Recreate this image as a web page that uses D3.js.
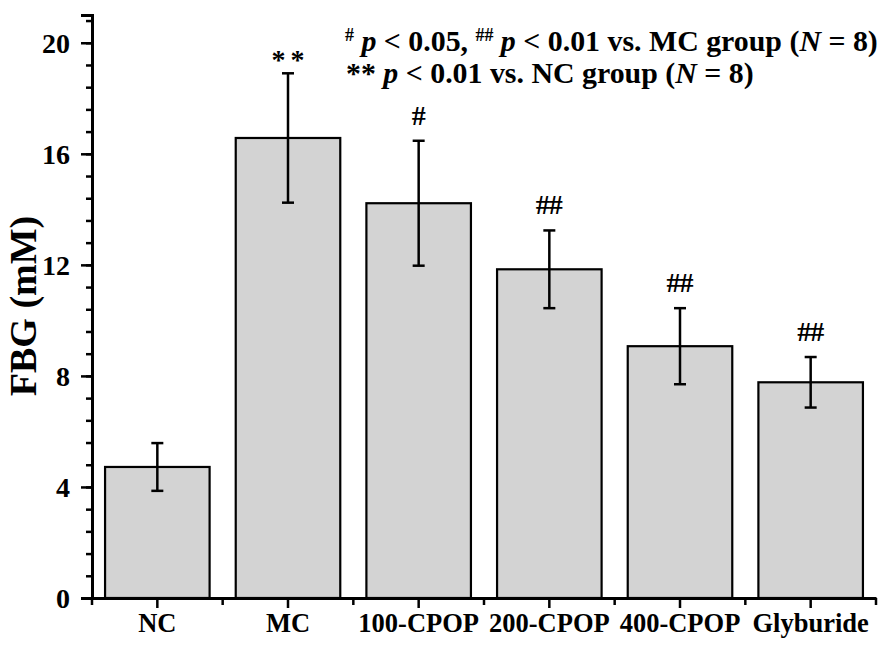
<!DOCTYPE html>
<html>
<head>
<meta charset="utf-8">
<script src="https://cdn.jsdelivr.net/npm/d3@7"></script>
<style>
  body { margin: 0; background: #fff; }
</style>
</head>
<body>
<div id="chart"></div>
<script>
// groups, means, SD and significance marks
let groups = ["NC", "MC", "100-CPOP", "200-CPOP", "400-CPOP", "Glyburide"];
let means = [4.72, 16.57, 14.22, 11.84, 9.07, 7.77];
let errs = [0.86, 2.33, 2.25, 1.40, 1.37, 0.91];
let marks = ["", "**", "#", "##", "##", "##"];
let yTicks = [0, 4, 8, 12, 16, 20];

let FONT = "Liberation Serif";
let W = 886, H = 652;
let margin = {top: 15, right: 10, left: 92, bottom: 54};
let width = W - margin.left - margin.right;
let height = H - margin.top - margin.bottom;

let svg = d3.select("#chart").append("svg")
  .attr("width", W)
  .attr("height", H)
  .attr("font-family", FONT)
  .attr("font-weight", "bold");

let g = svg.append("g")
  .attr("transform", "translate(" + margin.left + "," + margin.top + ")");

//------SCALES-------
let x = d3.scaleBand()
  .domain(groups)
  .range([0, width])
  .paddingInner(0.2)
  .paddingOuter(0.1);

let y = d3.scaleLinear()
  .domain([0, 21.0])
  .range([height, 0]);

//------BARS---------
g.selectAll("rect.bar").data(groups).enter()
  .append("rect")
  .attr("class", "bar")
  .attr("x", d => x(d))
  .attr("width", x.bandwidth())
  .attr("y", (d, i) => y(means[i]))
  .attr("height", (d, i) => y(0) - y(means[i]))
  .attr("fill", "#d3d3d3")
  .attr("stroke", "#000")
  .attr("stroke-width", 2.2);

//------ERROR BARS---
let cap = 6;
let eb = g.selectAll("g.err").data(groups).enter()
  .append("g")
  .attr("class", "err")
  .attr("stroke", "#000")
  .attr("stroke-width", 2.5);

eb.append("line")
  .attr("x1", d => x(d) + x.bandwidth() / 2)
  .attr("x2", d => x(d) + x.bandwidth() / 2)
  .attr("y1", (d, i) => y(means[i] + errs[i]))
  .attr("y2", (d, i) => y(means[i] - errs[i]));

[1, -1].forEach(function(s) {
  eb.append("line")
    .attr("x1", d => x(d) + x.bandwidth() / 2 - cap)
    .attr("x2", d => x(d) + x.bandwidth() / 2 + cap)
    .attr("y1", (d, i) => y(means[i] + s * errs[i]))
    .attr("y2", (d, i) => y(means[i] + s * errs[i]));
});

//------SIGNIFICANCE--
// asterisks sit high in the em box, so they need a smaller lift than '#'
g.selectAll("text.mark").data(groups).enter()
  .append("text")
  .attr("class", "mark")
  .attr("x", d => x(d) + x.bandwidth() / 2)
  .attr("y", (d, i) => y(means[i] + errs[i]) - (marks[i].indexOf("*") >= 0 ? 4 : 16))
  .attr("text-anchor", "middle")
  .attr("font-size", "28px")
  .attr("letter-spacing", (d, i) => marks[i].indexOf("*") >= 0 ? "5px" : "-1px")
  .attr("dx", (d, i) => marks[i].indexOf("*") >= 0 ? "2.5px" : "-0.5px")
  .text((d, i) => marks[i]);

//------AXES---------
let yMinor = d3.range(0, 21.0, 0.8);
let yAxisMinor = d3.axisLeft(y).tickValues(yMinor).tickSize(6).tickFormat("");
let yAxis = d3.axisLeft(y).tickValues(yTicks).tickSize(11).tickPadding(11);

g.append("g").attr("class", "axis").call(yAxisMinor);
let yg = g.append("g").attr("class", "axis").call(yAxis);
yg.selectAll("text").attr("font-size", "28px").attr("dy", "0.34em");

let xMinor = [0].concat(groups.map(d => x(d) + x.bandwidth() + x.step() * x.paddingInner() / 2));
xMinor[xMinor.length - 1] = width;
g.append("g")
  .attr("transform", "translate(0," + height + ")")
  .selectAll("line").data(xMinor).enter()
  .append("line")
  .attr("x1", d => d).attr("x2", d => d)
  .attr("y1", 0).attr("y2", 7)
  .attr("stroke", "#000").attr("stroke-width", 2.5);

let xAxis = d3.axisBottom(x).tickSize(10).tickPadding(3).tickSizeOuter(0);
let xg = g.append("g").attr("class", "axis")
  .attr("transform", "translate(0," + height + ")")
  .call(xAxis);
xg.selectAll("text").attr("font-size", "26.5px").attr("dy", "0.78em");

g.selectAll(".axis").attr("font-family", FONT).attr("font-weight", "bold");
g.selectAll(".axis path").attr("stroke", "#000").attr("stroke-width", 3);
g.selectAll(".axis line").attr("stroke", "#000").attr("stroke-width", 2.5);
g.selectAll(".axis text").attr("fill", "#000");

//------Y LABEL------
svg.append("text")
  .attr("transform", "translate(36,306) rotate(-90)")
  .attr("text-anchor", "middle")
  .attr("font-size", "38px")
  .text("FBG (mM)");

//------LEGEND-------
let leg = svg.append("text")
  .attr("x", 345)
  .attr("y", 51)
  .attr("font-size", "25px");
leg.append("tspan").attr("class", "sup").attr("dy", "-10").text("#");
leg.append("tspan").attr("font-style", "italic").attr("dy", "10").text(" p");
leg.append("tspan").text(" < 0.05, ");
leg.append("tspan").attr("class", "sup").attr("dy", "-10").text("##");
leg.append("tspan").attr("font-style", "italic").attr("dy", "10").text(" p");
leg.append("tspan").text(" < 0.01 vs. MC group (");
leg.append("tspan").attr("font-style", "italic").text("N");
leg.append("tspan").text(" = 8)");
leg.selectAll(".sup").attr("font-size", "15px");

let leg2 = svg.append("text")
  .attr("x", 346)
  .attr("y", 83)
  .attr("font-size", "25px");
leg2.append("tspan").text("**");
leg2.append("tspan").attr("font-style", "italic").text(" p");
leg2.append("tspan").text(" < 0.01 vs. NC group (");
leg2.append("tspan").attr("font-style", "italic").text("N");
leg2.append("tspan").text(" = 8)");

// grow the legend font so the first line spans x 345..878 like the figure
let k = 533 / leg.node().getComputedTextLength();
[leg, leg2].forEach(function(t) {
  t.attr("font-size", (25 * k) + "px");
});
leg.selectAll(".sup").attr("font-size", (15 * k) + "px");
</script>
</body>
</html>
